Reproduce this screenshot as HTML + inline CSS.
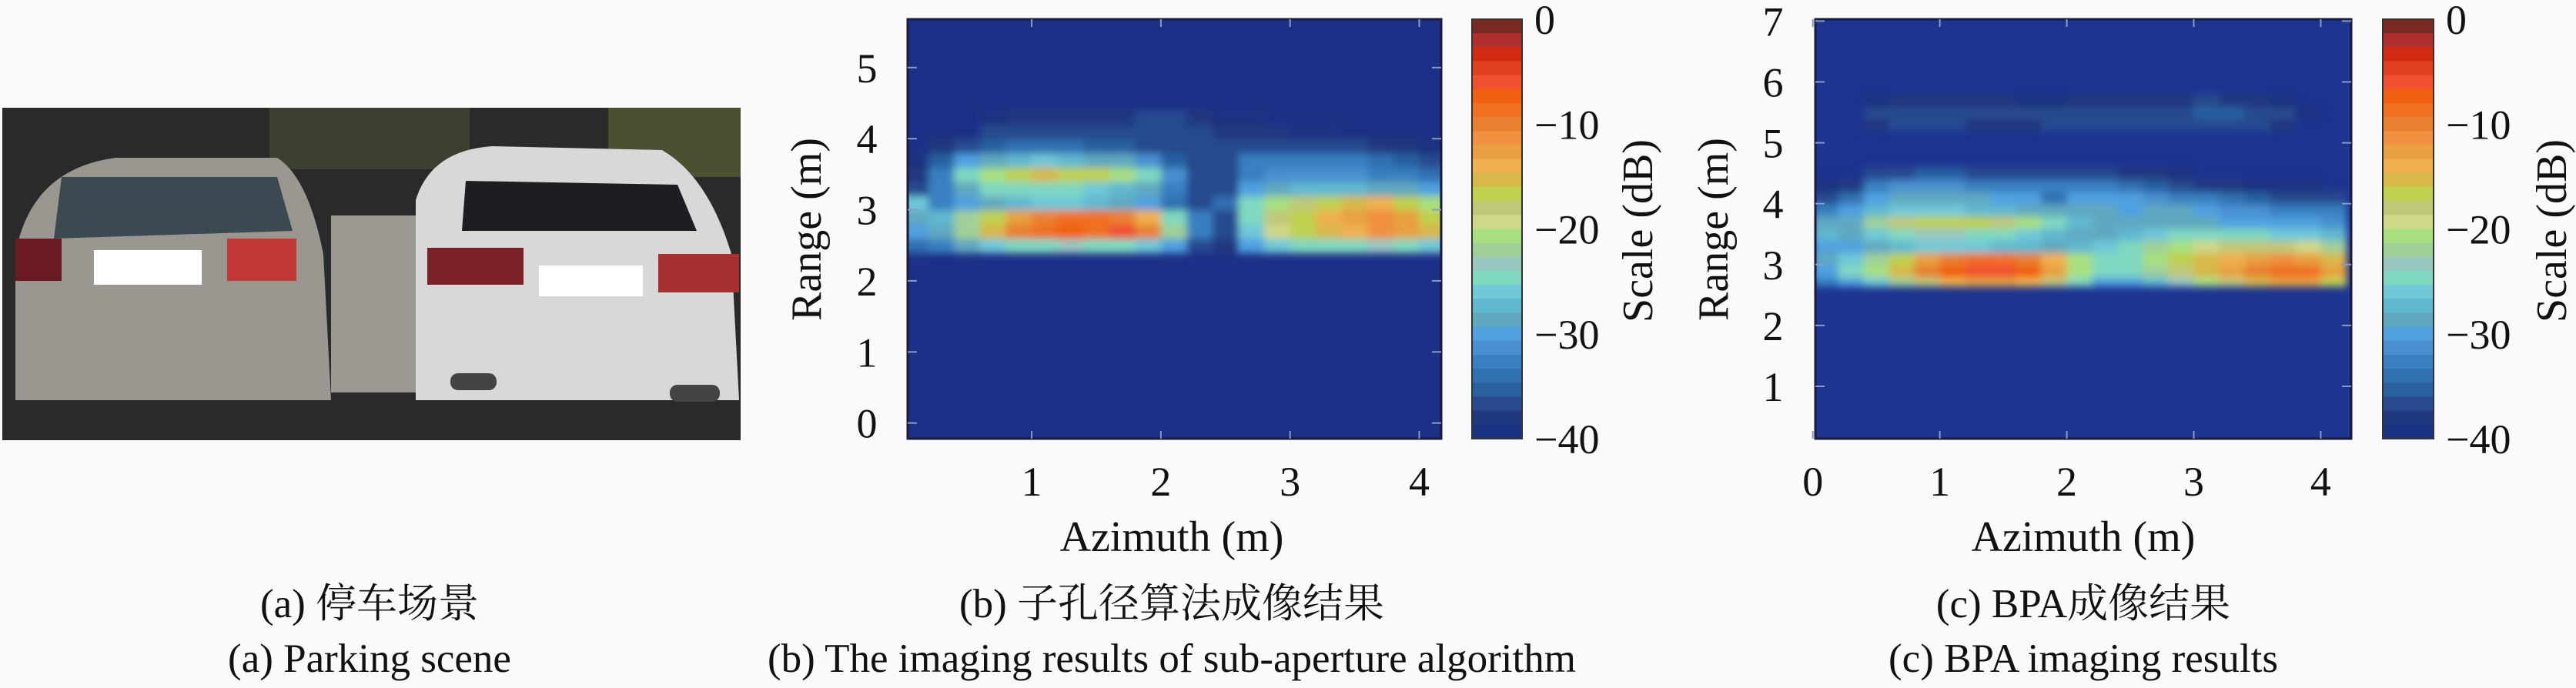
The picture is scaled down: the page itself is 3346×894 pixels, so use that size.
<!DOCTYPE html>
<html><head><meta charset="utf-8"><style>
body{margin:0;background:#fafafa;}
svg text{font-family:"Liberation Serif","Noto Serif CJK SC","Noto Sans CJK SC",serif;fill:#111;}
</style></head><body>
<svg id="fig" width="3346" height="889" viewBox="0 0 3346 889" xmlns="http://www.w3.org/2000/svg">
<defs>
<filter id="bl" x="-5%" y="-5%" width="110%" height="110%"><feGaussianBlur stdDeviation="5"/></filter>
<clipPath id="cb"><rect x="1179" y="25" width="693" height="545"/></clipPath>
<clipPath id="cc"><rect x="2358" y="25" width="696" height="545"/></clipPath>
</defs>
<!-- Panel a photo -->
<g>
<rect x="3" y="140" width="959" height="432" fill="#2a2a2a"/>
<rect x="350" y="140" width="260" height="80" fill="#3d4030"/>
<rect x="790" y="140" width="172" height="90" fill="#4a5030"/>
<path d="M20 330 Q40 220 150 205 L360 205 Q400 230 420 330 L430 520 L20 520 Z" fill="#9a9690"/>
<path d="M80 230 L360 230 L380 300 L70 310 Z" fill="#3a4a50"/>
<rect x="20" y="310" width="60" height="55" fill="#6a1a20"/>
<rect x="295" y="310" width="90" height="55" fill="#c03838"/>
<rect x="122" y="325" width="140" height="45" fill="#fff"/>
<path d="M540 260 Q560 195 640 190 L860 195 Q920 230 950 330 L960 520 L540 520 Z" fill="#d8d8d8"/>
<path d="M605 235 L880 240 L905 300 L600 300 Z" fill="#1e1e22"/>
<rect x="555" y="322" width="125" height="48" fill="#7a2228"/>
<rect x="855" y="330" width="105" height="50" fill="#a83030"/>
<rect x="700" y="345" width="135" height="40" fill="#fff"/>
<rect x="585" y="485" width="60" height="22" rx="10" fill="#444"/>
<rect x="870" y="500" width="65" height="22" rx="10" fill="#444"/>
<rect x="430" y="280" width="110" height="230" fill="#9a9890"/>
</g>
<text x="480" y="802" font-size="53" text-anchor="middle">(a) 停车场景</text>
<text x="480" y="873" font-size="53" text-anchor="middle">(a) Parking scene</text>

<!-- Panel b -->
<rect x="1179" y="25" width="693" height="545" fill="#1d3087"/>
<g id="hb" clip-path="url(#cb)"><g id="hbi" filter="url(#bl)"></g></g>
<rect x="1179" y="25" width="693" height="545" fill="none" stroke="#1a1a3a" stroke-width="3"/>
<g id="axb"></g>
<text transform="translate(1066,298) rotate(-90)" font-size="56" text-anchor="middle">Range (m)</text>
<text x="1522" y="716" font-size="56" text-anchor="middle">Azimuth (m)</text>
<g id="cbb"></g>
<text transform="translate(2146,300) rotate(-90)" font-size="56" text-anchor="middle">Scale (dB)</text>
<text x="1522" y="802" font-size="53" text-anchor="middle">(b) 子孔径算法成像结果</text>
<text x="1522" y="873" font-size="53" text-anchor="middle">(b) The imaging results of sub-aperture algorithm</text>

<!-- Panel c -->
<rect x="2358" y="25" width="696" height="545" fill="#1d3490"/>
<g id="hc" clip-path="url(#cc)"><g id="hci" filter="url(#bl)"></g></g>
<rect x="2358" y="25" width="696" height="545" fill="none" stroke="#1a1a3a" stroke-width="3"/>
<g id="axc"></g>
<text transform="translate(2244,298) rotate(-90)" font-size="56" text-anchor="middle">Range (m)</text>
<text x="2706" y="716" font-size="56" text-anchor="middle">Azimuth (m)</text>
<g id="cbc"></g>
<text transform="translate(3333,300) rotate(-90)" font-size="56" text-anchor="middle">Scale (dB)</text>
<text x="2706" y="802" font-size="53" text-anchor="middle">(c) BPA成像结果</text>
<text x="2706" y="873" font-size="53" text-anchor="middle">(c) BPA imaging results</text>
</svg>
<script>
// ---- data ----
const azimuthCenters = [0.1,0.3,0.5,0.7,0.9,1.1,1.3,1.5,1.7,1.9,2.1,2.3,2.5,2.7,2.9,3.1,3.3,3.5,3.7,3.9,4.1];
const rangeCentersB = [2.5,2.7,2.9,3.1,3.3,3.5,3.7,3.9,4.1,4.3];
const dbB = [
 [-34,-32,-28,-26,-24,-24,-23,-24,-25,-26,-30,-36,-38,-30,-26,-25,-24,-24,-23,-24,-26],
 [-30,-28,-22,-15,-10,-8,-7,-8,-6,-10,-22,-33,-37,-26,-19,-17,-15,-14,-11,-12,-15],
 [-28,-27,-22,-17,-12,-10,-9,-9,-10,-14,-24,-33,-36,-24,-18,-16,-14,-12,-11,-13,-16],
 [-26,-32,-30,-28,-27,-26,-26,-27,-28,-30,-34,-36,-34,-24,-20,-18,-16,-15,-14,-16,-20],
 [-36,-33,-28,-25,-24,-24,-25,-26,-27,-29,-33,-36,-36,-30,-28,-27,-27,-27,-28,-28,-30],
 [-38,-32,-24,-20,-17,-15,-16,-17,-20,-24,-31,-36,-36,-32,-31,-31,-31,-31,-32,-32,-34],
 [-39,-35,-30,-28,-27,-26,-27,-28,-29,-31,-35,-37,-37,-33,-33,-33,-33,-33,-34,-35,-36],
 [-40,-38,-36,-35,-34,-34,-34,-35,-35,-36,-37,-37,-37,-36,-36,-37,-37,-37,-38,-38,-39],
 [-40,-40,-40,-37,-37,-36,-36,-37,-37,-36,-36,-37,-38,-38,-38,-39,-39,-40,-40,-40,-40],
 [-40,-40,-40,-39,-38,-38,-38,-38,-38,-37,-37,-38,-39,-39,-40,-40,-40,-40,-40,-40,-40]
];
const rangeCentersC = [2.75,2.9,3.1,3.3,3.5,3.7,3.9,4.1,4.3,4.5,5.3,5.5,5.7];
const dbC = [
 [-33,-30,-26,-22,-18,-14,-12,-12,-14,-18,-25,-30,-30,-27,-23,-20,-18,-15,-13,-13,-16],
 [-30,-25,-20,-15,-10,-7,-6,-6,-7,-12,-20,-25,-25,-22,-18,-15,-13,-10,-8,-8,-12],
 [-28,-26,-22,-17,-13,-10,-9,-9,-10,-14,-21,-25,-25,-21,-17,-15,-14,-12,-11,-12,-15],
 [-30,-30,-28,-27,-26,-26,-26,-27,-27,-28,-27,-26,-25,-22,-20,-19,-18,-18,-18,-19,-22],
 [-27,-28,-26,-24,-23,-23,-24,-25,-26,-27,-28,-28,-27,-26,-25,-25,-25,-25,-26,-26,-27],
 [-29,-28,-22,-18,-17,-17,-17,-18,-20,-24,-27,-28,-28,-28,-28,-29,-30,-30,-30,-30,-31],
 [-32,-30,-27,-26,-26,-26,-27,-27,-28,-28,-29,-29,-30,-29,-29,-30,-31,-31,-32,-33,-33],
 [-36,-34,-30,-29,-28,-28,-29,-30,-30,-34,-30,-30,-30,-31,-32,-33,-34,-35,-36,-37,-37],
 [-39,-38,-33,-31,-31,-31,-32,-32,-33,-33,-32,-33,-34,-35,-37,-38,-38,-39,-39,-39,-40],
 [-40,-40,-37,-36,-35,-35,-36,-36,-36,-36,-36,-37,-38,-38,-39,-40,-40,-40,-40,-40,-40],
 [-40,-40,-38,-37,-37,-37,-38,-38,-38,-37,-37,-37,-37,-37,-37,-36,-37,-37,-38,-40,-40],
 [-40,-40,-37,-36,-36,-37,-37,-36,-36,-36,-37,-36,-36,-37,-37,-35,-35,-36,-36,-39,-40],
 [-40,-40,-39,-38,-38,-38,-38,-38,-39,-39,-38,-38,-38,-38,-38,-37,-38,-38,-39,-40,-40]
];
const xTicksB = [1,2,3,4];
const yTicksB = [0,1,2,3,4,5];
const xTicksC = [0,1,2,3,4];
const yTicksC = [1,2,3,4,5,6,7];
const cbTicks = [0,-10,-20,-30,-40];

// colormap (top = 0 dB)
const cmap = ["#7a2a22","#b03030","#d02a10","#e04020","#f05030","#f06010","#f07020","#e88030","#f09040","#e8a040","#f0b050","#d8b848","#c0d050","#c0c878","#d0d888","#a8e080","#a0d098","#98c8c0","#80d8c0","#70c8d8","#60b8d0","#60a8c0","#50a0e0","#4890d0","#3880c0","#3070b0","#2860a0","#284890","#203880","#1a3080"];
function col(v){let t=(-v)/40;let i=Math.min(cmap.length-1,Math.max(0,Math.floor(t*cmap.length)));return cmap[i];}
const NS="http://www.w3.org/2000/svg";
function mk(tag,attrs,parent){const e=document.createElementNS(NS,tag);for(const k in attrs)e.setAttribute(k,attrs[k]);parent.appendChild(e);return e;}

function panel(cfg){
  const sx=v=>cfg.x0+(v-cfg.xmin)/(cfg.xmax-cfg.xmin)*(cfg.x1-cfg.x0);
  const sy=v=>cfg.y1-(v-cfg.ymin)/(cfg.ymax-cfg.ymin)*(cfg.y1-cfg.y0);
  const g=document.getElementById(cfg.heat);
  const cw=sx(0.2)-sx(0), ch=sy(0)-sy(0.2);
  cfg.rows.forEach((r,ri)=>{
    azimuthCenters.forEach((a,ci)=>{
      const v=cfg.data[ri][ci];
      if(v<=-39.5) return;
      const c=mk('rect',{x:sx(a-0.1),y:sy(r+0.1),width:cw+1,height:ch+1,fill:col(v)},g);
      
      
    });
  });
  const ax=document.getElementById(cfg.ax);
  cfg.xt.forEach(t=>{
    const x=sx(t);
    mk('line',{x1:x,y1:cfg.y1,x2:x,y2:cfg.y1-10,stroke:'#8899cc','stroke-width':2},ax);
    mk('line',{x1:x,y1:cfg.y0,x2:x,y2:cfg.y0+10,stroke:'#8899cc','stroke-width':2},ax);
    const tx=mk('text',{x:x,y:644,'font-size':54,'text-anchor':'middle'},ax);
    tx.textContent=t;
    
    
  });
  cfg.yt.forEach(t=>{
    const y=sy(t);
    mk('line',{x1:cfg.x0,y1:y,x2:cfg.x0+12,y2:y,stroke:'#8899cc','stroke-width':2},ax);
    mk('line',{x1:cfg.x1,y1:y,x2:cfg.x1-12,y2:y,stroke:'#8899cc','stroke-width':2},ax);
    const tx=mk('text',{x:cfg.ylx,y:y+19,'font-size':54,'text-anchor':'middle'},ax);
    tx.textContent=t;
    
    
  });
  // colorbar
  const cb=document.getElementById(cfg.cb);
  const n=cmap.length, h=(570-25)/n;
  cmap.forEach((c,i)=>{
    const r=mk('rect',{x:cfg.cbx,y:25+i*h,width:cfg.cbw,height:h+0.6,fill:c},cb);
    
    
  });
  mk('rect',{x:cfg.cbx,y:25,width:cfg.cbw,height:545,fill:'none',stroke:'#333','stroke-width':2},cb);
  cbTicks.forEach(t=>{
    const y=25+(-t)/40*545;
    const tx=mk('text',{x:cfg.cbx+cfg.cbw+16,y:y+19,'font-size':54},cb);
    tx.textContent=t===0?'0':'\u2212'+(-t);
    
    
  });
}
panel({heat:'hbi',ax:'axb',cb:'cbb',x0:1179,x1:1872,y0:25,y1:570,xmin:0.04,xmax:4.17,ymin:-0.22,ymax:5.68,rows:rangeCentersB,data:dbB,xt:xTicksB,yt:yTicksB,ylx:1126,cbx:1912,cbw:65});
panel({heat:'hci',ax:'axc',cb:'cbc',x0:2358,x1:3054,y0:25,y1:570,xmin:0.02,xmax:4.24,ymin:0.14,ymax:7.03,rows:rangeCentersC,data:dbC,xt:xTicksC,yt:yTicksC,ylx:2303,cbx:3095,cbw:66});
</script>
</body></html>
